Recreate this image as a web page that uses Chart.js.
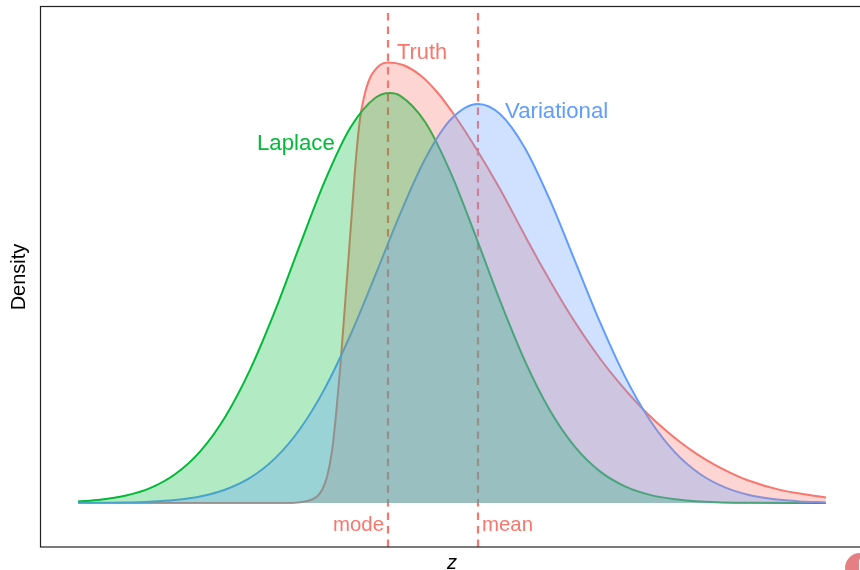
<!DOCTYPE html>
<html>
<head>
<meta charset="utf-8">
<title>Density</title>
<script src="https://cdn.jsdelivr.net/npm/chart.js@4/dist/chart.umd.min.js"></script>
<style>
    html, body { margin: 0; padding: 0; background: #fff; overflow: hidden; width: 860px; height: 570px; }
    #wrap { position: relative; width: 860px; height: 570px; overflow: hidden; }
    canvas { display: block; }
    /* corner of a logo sticking into the frame */
    #mark { position: absolute; left: 845px; top: 553px; width: 30px; height: 30px; border-radius: 50%; background: #e57f84; }
    #mark i { position: absolute; left: 14px; top: 5px; width: 12px; height: 20px; background: #fff; border-radius: 3px; }
</style>
</head>
<body>
<div id="wrap">
    <canvas id="chart" width="863" height="570"></canvas>
    <div id="mark"><i></i></div>
</div>
<script>
// curves
const laplaceZ = [-3.22, -3.00, -2.75, -2.50, -2.25, -2.00, -1.75, -1.50, -1.25, -1.00, -0.75, -0.50, -0.25, -0.10, 0.00, 0.25, 0.50, 0.75, 1.00, 1.25, 1.50, 1.75, 2.00, 2.25, 2.50, 2.75, 3.00, 3.50, 4.26];
const laplaceDensity = [0.0015, 0.0032, 0.0072, 0.0148, 0.0287, 0.0514, 0.0858, 0.1331, 0.1921, 0.2581, 0.3223, 0.3747, 0.4050, 0.4100, 0.4074, 0.3812, 0.3318, 0.2687, 0.2024, 0.1419, 0.0925, 0.0561, 0.0316, 0.0166, 0.0081, 0.0037, 0.0016, 0.0002, 0];

const variationalZ = [-3.22, -2.75, -2.50, -2.25, -2.00, -1.75, -1.50, -1.25, -1.00, -0.75, -0.50, -0.25, 0.00, 0.25, 0.50, 0.78, 1.00, 1.25, 1.50, 1.75, 2.00, 2.25, 2.50, 2.75, 3.00, 3.25, 3.50, 3.75, 4.00, 4.26];
const variationalDensity = [0.0001, 0.0005, 0.0013, 0.0030, 0.0065, 0.0133, 0.0251, 0.0446, 0.0740, 0.1149, 0.1670, 0.2270, 0.2887, 0.3437, 0.3827, 0.3990, 0.3889, 0.3548, 0.3028, 0.2419, 0.1808, 0.1264, 0.0827, 0.0506, 0.0290, 0.0156, 0.0078, 0.0037, 0.0016, 0.0006];

const truthZ = [-3.22, -2.00, -1.20, -1.05, -0.95, -0.88, -0.83, -0.78, -0.73, -0.68, -0.64, -0.60, -0.56, -0.52, -0.48, -0.44, -0.40, -0.36, -0.30, -0.20, -0.12, 0.03, 0.20, 0.37, 0.55, 0.77, 1.00, 1.23, 1.43, 1.63, 1.80, 2.00, 2.17, 2.43, 2.63, 2.80, 2.97, 3.13, 3.30, 3.47, 3.80, 4.26];
const truthDensity = [0, 0, 0, 0.0003, 0.0015, 0.0035, 0.0065, 0.0130, 0.0260, 0.0520, 0.0880, 0.1330, 0.1850, 0.2380, 0.2920, 0.3450, 0.3840, 0.4060, 0.4250, 0.4380, 0.4405, 0.4380, 0.4280, 0.4110, 0.3870, 0.3530, 0.3140, 0.2710, 0.2344, 0.2000, 0.1731, 0.1445, 0.1228, 0.0937, 0.0749, 0.0610, 0.0489, 0.0391, 0.0303, 0.0230, 0.0131, 0.0055];

const modeZ = -0.12;
const meanZ = 0.78;

const zRange = [-3.59, 4.63];
const densityRange = [-0.044, 0.496];

const RED = '#F8766D';
const GREEN = '#00BA38';
const BLUE = '#619CFF';
const FONT = '"Liberation Sans", Arial, sans-serif';

const toPoints = (xs, ys) => xs.map((x, i) => ({ x: x, y: ys[i] }));

// listed top-most first, Chart.js paints the first dataset of an order last
const curves = [
    { label: 'Variational', points: toPoints(variationalZ, variationalDensity), color: BLUE, fill: 'rgba(97,156,255,0.3)' },
    { label: 'Laplace', points: toPoints(laplaceZ, laplaceDensity), color: GREEN, fill: 'rgba(0,186,56,0.3)' },
    { label: 'Truth', points: toPoints(truthZ, truthDensity), color: RED, fill: 'rgba(248,118,109,0.3)' }
];

// lines go under the fills, lower order is painted last
const datasets = [];
[modeZ, meanZ].forEach(z => {
    datasets.push({
        data: [{ x: z, y: densityRange[0] }, { x: z, y: densityRange[1] }],
        borderColor: RED, borderWidth: 2.2, borderDash: [7.5, 6], pointRadius: 0, fill: false, order: 3
    });
});
curves.forEach(c => {
    datasets.push({
        label: c.label, data: c.points, borderColor: c.color, borderWidth: 2,
        pointRadius: 0, cubicInterpolationMode: 'monotone', fill: false, order: 2
    });
});
curves.forEach(c => {
    datasets.push({
        label: c.label + ' area', data: c.points, borderWidth: 0, borderColor: 'transparent',
        backgroundColor: c.fill, pointRadius: 0, cubicInterpolationMode: 'monotone', fill: 'origin', order: 1
    });
});

const panelAndLabels = {
    id: 'panelAndLabels',
    afterDatasetsDraw(chart) {
        const { ctx, chartArea, scales } = chart;
        const text = (str, z, d, color, align, size) => {
            ctx.fillStyle = color;
            ctx.font = size + 'px ' + FONT;
            ctx.textAlign = align;
            ctx.textBaseline = 'middle';
            ctx.fillText(str, scales.x.getPixelForValue(z), scales.y.getPixelForValue(d));
        };
        ctx.save();
        text('Truth', -0.03, 0.450, RED, 'left', 21.8);
        text('Variational', 1.05, 0.391, BLUE, 'left', 22.2);
        text('Laplace', -1.43, 0.359, GREEN, 'left', 22.2);
        text('mode', -0.16, -0.022, RED, 'right', 20.4);
        text('mean', 0.82, -0.022, RED, 'left', 20.4);
        ctx.strokeStyle = '#222222';
        ctx.lineWidth = 1.2;
        ctx.strokeRect(chartArea.left - 0.5, chartArea.top - 0.5, chartArea.right - chartArea.left + 0.5, chartArea.bottom - chartArea.top + 0.5);
        ctx.restore();
    }
};

new Chart(document.getElementById('chart'), {
    type: 'line',
    data: { datasets: datasets },
    plugins: [panelAndLabels],
    options: {
        responsive: false,
        animation: false,
        layout: { padding: { top: 7, left: 0, right: 0, bottom: 0 } },
        plugins: { legend: { display: false }, tooltip: { enabled: false } },
        scales: {
            x: {
                type: 'linear', min: zRange[0], max: zRange[1],
                grid: { display: false }, border: { display: false }, ticks: { display: false },
                title: { display: true, text: 'z', color: '#000', padding: { top: 0, bottom: 0 },
                    font: { family: FONT, size: 20, style: 'italic', lineHeight: 0.7 } },
                afterFit(axis) { axis.height = 23; }
            },
            y: {
                min: densityRange[0], max: densityRange[1],
                grid: { display: false }, border: { display: false }, ticks: { display: false },
                title: { display: true, text: 'Density', color: '#000', padding: { top: 9.5, bottom: 0 },
                    font: { family: FONT, size: 20, lineHeight: 1 } },
                afterFit(axis) { axis.width = 41; }
            }
        }
    }
});
</script>
</body>
</html>
